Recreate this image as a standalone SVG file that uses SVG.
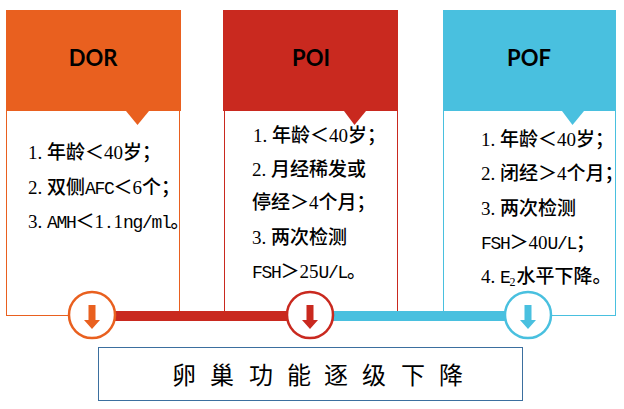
<svg xmlns="http://www.w3.org/2000/svg" width="624" height="409" viewBox="0 0 624 409">
<style>
text{font-family:"Noto Sans CJK SC",sans-serif;fill:#000}
.t{font-size:19px;font-weight:500}
.d{font-family:"Liberation Serif",serif;font-size:19px;font-weight:400}
.l{font-family:"Liberation Mono",monospace;font-size:18px;font-weight:400;letter-spacing:-1.300px}
.h{font-family:Lato,"Open Sans",sans-serif;font-size:22px;font-weight:700;text-anchor:middle}
.s{font-size:24px}
.c{fill:#fff;stroke-width:2.5}
.b{fill:#fff;stroke-width:1}
</style>
<defs>
<path id="arrow" d="M-3.500,-13 H3.500 V2 H8 L0,11 L-8,2 H-3.500 Z"/>
</defs>
<g id="node-dor">
<rect class="b" x="6.500" y="110" width="173" height="205.500" stroke="#e9601f"/>
<rect x="6" y="10" width="175" height="101" fill="#e9601f"/>
<path d="M126,111 H149 L137.500,125 Z" fill="#e9601f"/>
<text class="h" x="93" y="66">DOR</text>
<text class="t" x="28" y="159"><tspan class="d">1.</tspan><tspan dx="4.750">年龄＜</tspan><tspan class="d">40</tspan>岁；</text>
<text class="t" x="28" y="194"><tspan class="d">2.</tspan><tspan dx="4.750">双侧</tspan><tspan class="l">AFC</tspan>＜<tspan class="d">6</tspan>个；</text>
<text class="t" x="28" y="228"><tspan class="d">3.</tspan><tspan class="l" dx="4.750">AMH</tspan>＜<tspan class="d">1</tspan><tspan class="d" dx="2.400">.</tspan><tspan class="d" dx="2.400">1</tspan><tspan class="l">ng/ml</tspan>。</text>
</g>
<g id="node-poi">
<rect class="b" x="224.500" y="110" width="173" height="205.500" stroke="#c9291f"/>
<rect x="223" y="10" width="175" height="101" fill="#c9291f"/>
<path d="M344,111 H366 L354.500,125 Z" fill="#c9291f"/>
<text class="h" x="311" y="66">POI</text>
<text class="t" x="253" y="142"><tspan class="d">1.</tspan><tspan dx="4.750">年龄＜</tspan><tspan class="d">40</tspan>岁；</text>
<text class="t" x="252" y="176"><tspan class="d">2.</tspan><tspan dx="4.750">月经稀发或</tspan></text>
<text class="t" x="252" y="209">停经＞<tspan class="d">4</tspan>个月；</text>
<text class="t" x="252" y="244"><tspan class="d">3.</tspan><tspan dx="4.750">两次检测</tspan></text>
<text class="t" x="252" y="278"><tspan class="l">FSH</tspan>＞<tspan class="d">25</tspan><tspan class="l">U/L</tspan>。</text>
</g>
<g id="node-pof">
<rect class="b" x="443.500" y="110" width="172" height="205.500" stroke="#49c0df"/>
<rect x="443" y="10" width="173" height="101" fill="#49c0df"/>
<path d="M562,111 H584 L572.500,125 Z" fill="#49c0df"/>
<text class="h" x="529" y="66">POF</text>
<text class="t" x="481" y="146"><tspan class="d">1.</tspan><tspan dx="4.750">年龄＜</tspan><tspan class="d">40</tspan>岁；</text>
<text class="t" x="481" y="180"><tspan class="d">2.</tspan><tspan dx="4.750">闭经＞</tspan><tspan class="d">4</tspan>个月；</text>
<text class="t" x="481" y="215"><tspan class="d">3.</tspan><tspan dx="4.750">两次检测</tspan></text>
<text class="t" x="481" y="249"><tspan class="l">FSH</tspan>＞<tspan class="d">40</tspan><tspan class="l">U/L</tspan>；</text>
<text class="t" x="481" y="283"><tspan class="d">4.</tspan><tspan class="l" dx="4.750">E</tspan><tspan class="d" dy="3" style="font-size:12px">2</tspan><tspan dy="-3" dx="1">水平下降。</tspan></text>
</g>
<g id="connectors">
<rect x="112" y="311" width="180" height="10" fill="#c9291f"/>
<rect x="330" y="311" width="180" height="10" fill="#49c0df"/>
</g>
<g id="circle-1">
<circle class="c" cx="92" cy="315" r="23" stroke="#e9601f"/>
<use href="#arrow" x="92" y="318" fill="#e9601f"/>
</g>
<g id="circle-2">
<circle class="c" cx="310" cy="315" r="23" stroke="#c9291f"/>
<use href="#arrow" x="310" y="318" fill="#c9291f"/>
</g>
<g id="circle-3">
<circle class="c" cx="528" cy="315" r="23" stroke="#49c0df"/>
<use href="#arrow" x="528" y="318" fill="#49c0df"/>
</g>
<g id="node-summary">
<rect x="98.500" y="347.500" width="424" height="53" fill="#fff" stroke="#3b6f9f"/>
<text class="s" x="172" y="384">卵</text>
<text class="s" x="210" y="384">巢</text>
<text class="s" x="249" y="384">功</text>
<text class="s" x="287" y="384">能</text>
<text class="s" x="324" y="384">逐</text>
<text class="s" x="362" y="384">级</text>
<text class="s" x="401" y="384">下</text>
<text class="s" x="439" y="384">降</text>
</g>
</svg>
